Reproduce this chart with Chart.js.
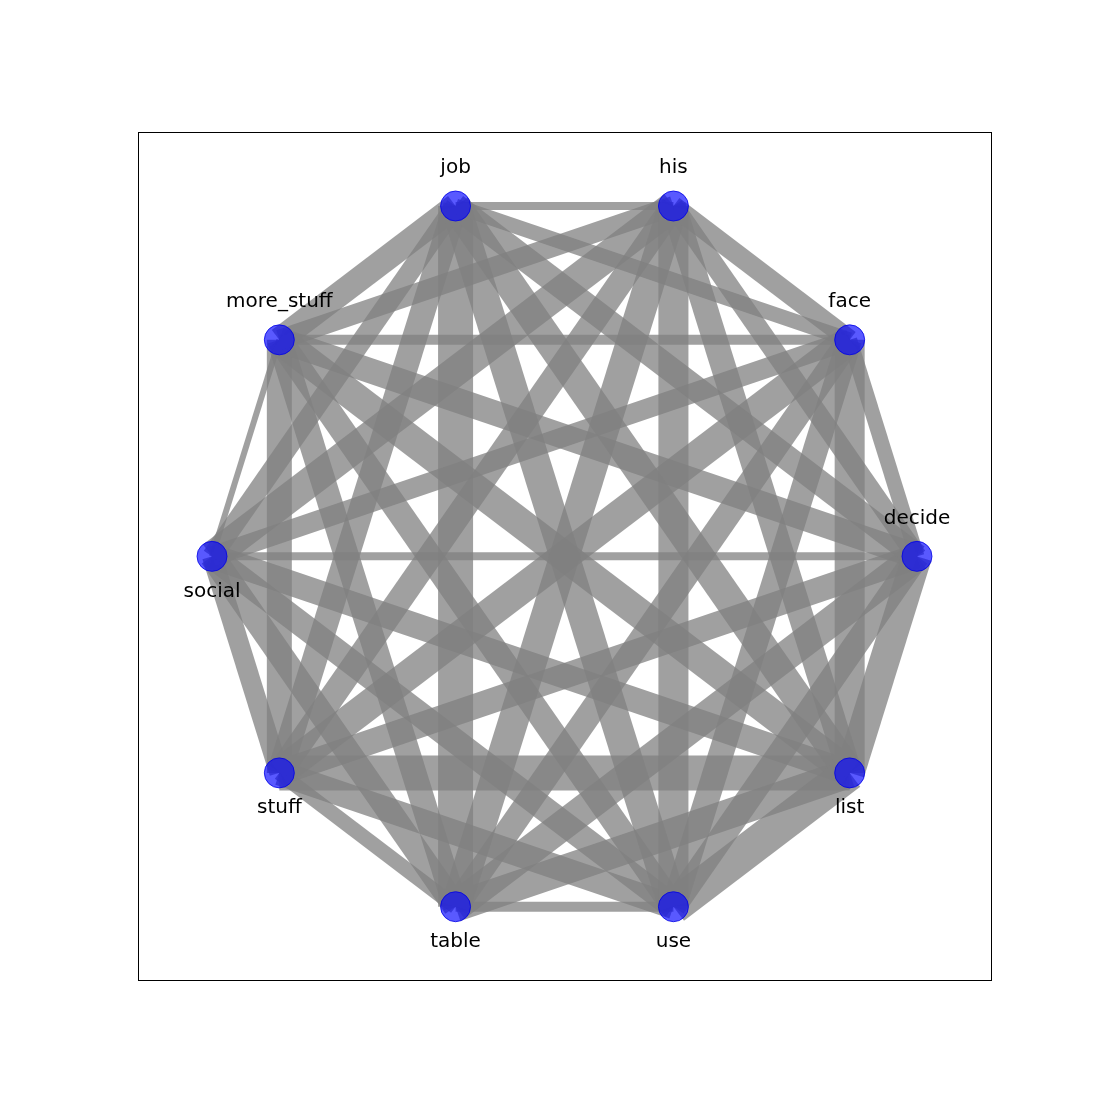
<!DOCTYPE html>
<html><head><meta charset="utf-8">
<script src="https://cdn.jsdelivr.net/npm/chart.js@4"></script>
<style>body{margin:0;background:#fff}</style>
</head><body>
<canvas id="c" width="1100" height="1100"></canvas>
<script>
// nodes placed on a unit circle (circular layout), angle in degrees
var nodes = ['decide','face','his','job','more_stuff','social','stuff','table','use','list']
var angles = [0,36,72,108,144,180,216,252,288,324]
var labelAbove = [true,true,true,true,true,false,false,false,false,false]

// edges: from, to, width (px)
var edgeFrom = ['job','job','job','job','job','job','job','job','job',
  'his','his','his','his','his','his','his','his',
  'face','face','face','face','face','face','face',
  'decide','decide','decide','decide','decide','decide',
  'list','list','list','list','list',
  'use','use','use','use','table','table','table','stuff','stuff','social']
var edgeTo = ['his','face','decide','list','use','table','stuff','social','more_stuff',
  'face','decide','list','use','table','stuff','social','more_stuff',
  'decide','list','use','table','stuff','social','more_stuff',
  'list','use','table','stuff','social','more_stuff',
  'use','table','stuff','social','more_stuff',
  'table','stuff','social','more_stuff','stuff','social','more_stuff','social','more_stuff','more_stuff']
var edgeWidth = [8,15,25,30,30,35,25,20,25,
  20,20,25,30,30,25,30,20,
  15,30,25,25,30,20,10,
  30,25,30,25,8,25,
  35,30,35,25,30,
  10,25,25,25,15,25,25,20,25,6]

function pos(name) {
  var a = angles[nodes.indexOf(name)] * Math.PI / 180
  return {x: Math.cos(a), y: Math.sin(a)}
}

var datasets = []
datasets.push({
  data: nodes.map(pos), order: 0, showLine: false,
  pointRadius: 15, pointHoverRadius: 15,
  backgroundColor: 'rgba(0,0,255,0.65)', borderColor: 'rgba(0,0,230,0.8)', borderWidth: 1
})
edgeFrom.forEach(function(f, i) {
  datasets.push({
    data: [pos(f), pos(edgeTo[i])], order: 1, showLine: true,
    pointRadius: 0, pointHoverRadius: 0, borderWidth: edgeWidth[i],
    borderColor: 'rgba(128,128,128,0.75)', borderCapStyle: 'butt'
  })
})

var extras = {
  id: 'extras',
  afterDraw: function(chart) {
    var c = chart.ctx, a = chart.chartArea
    var sx = chart.scales.x, sy = chart.scales.y
    c.save()
    c.strokeStyle = '#000'; c.lineWidth = 1
    c.strokeRect(a.left + 0.5, a.top + 0.5, a.right - a.left, a.bottom - a.top)
    c.fillStyle = '#000'; c.font = '20px "DejaVu Sans"'; c.textAlign = 'center'; c.textBaseline = 'middle'
    nodes.forEach(function(n, i) {
      var p = pos(n)
      var px = sx.getPixelForValue(p.x), py = sy.getPixelForValue(p.y)
      c.fillText(n, px, py + (labelAbove[i] ? -38 : 35))
    })
    c.restore()
  }
}

new Chart(document.getElementById('c'), {
  type: 'scatter',
  data: {datasets: datasets},
  options: {
    responsive: false, devicePixelRatio: 1, animation: false,
    layout: {padding: {left: 138, top: 132, right: 109, bottom: 120}},
    plugins: {legend: {display: false}, tooltip: {enabled: false}},
    scales: {
      x: {display: false, min: -1.21, max: 1.21},
      y: {display: false, min: -1.15, max: 1.152}
    }
  },
  plugins: [extras]
})
</script>
</body></html>
